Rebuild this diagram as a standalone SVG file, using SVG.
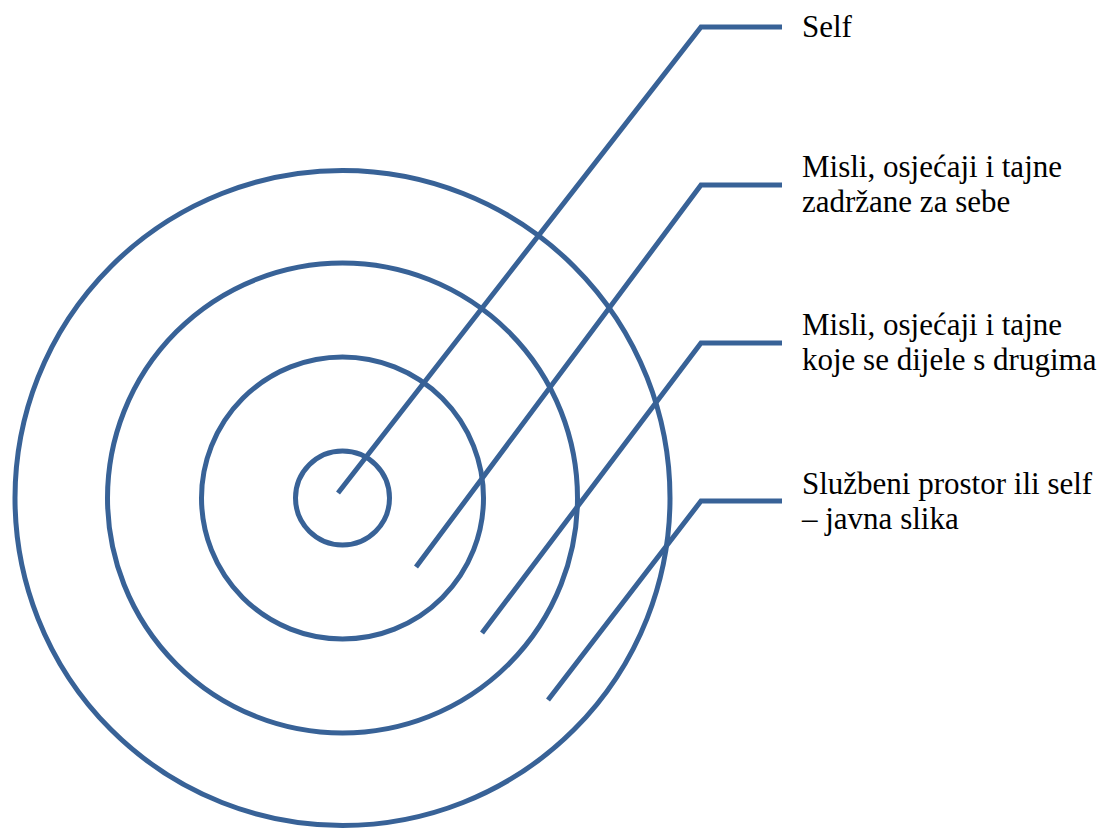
<svg xmlns="http://www.w3.org/2000/svg" width="1109" height="830" viewBox="0 0 1109 830">
<style>
.c{fill:none;stroke:#386297;stroke-width:5}
.l{fill:none;stroke:#386297;stroke-width:5;stroke-linejoin:miter}
</style>
<rect width="1109" height="830" fill="#fff"/>
<g id="ring-outer"><circle class="c" cx="342.5" cy="498" r="327.5"/></g>
<g id="ring-3"><circle class="c" cx="342.5" cy="498" r="235"/></g>
<g id="ring-2"><circle class="c" cx="342.5" cy="498" r="141"/></g>
<g id="ring-self"><circle class="c" cx="342.5" cy="498" r="47"/></g>
<g id="connectors">
<polyline class="l" points="338,493 701,27 782,27"/>
<polyline class="l" points="416,567 701,185 782,185"/>
<polyline class="l" points="482,633 701,343 782,343"/>
<polyline class="l" points="548,700 701,501 782,501"/>
</g>
<g font-family="Liberation Serif, Times New Roman, serif" font-size="31" fill="#000">
<g id="label-self"><text x="802" y="37">Self</text></g>
<g id="label-2"><text x="802" y="177">Misli, osjećaji i tajne</text><text x="802" y="212">zadržane za sebe</text></g>
<g id="label-3"><text x="802" y="335">Misli, osjećaji i tajne</text><text x="802" y="370">koje se dijele s drugima</text></g>
<g id="label-4"><text x="802" y="494">Službeni prostor ili self</text><text x="802" y="529">– javna slika</text></g>
</g>
</svg>
